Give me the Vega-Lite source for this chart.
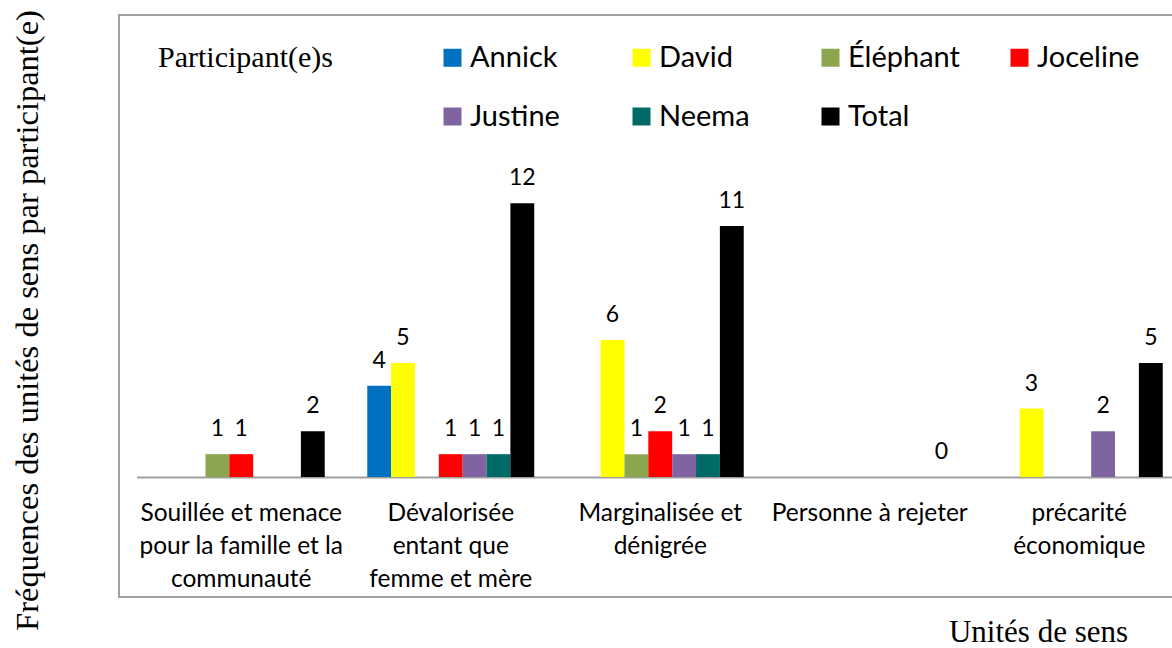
{
  "$schema": "https://vega.github.io/schema/vega-lite/v6.json",
  "autosize": "none",
  "width": 1061,
  "height": 582,
  "padding": {"left": 119, "top": 15, "right": -8, "bottom": 51},
  "background": "white",
  "config": {
    "view": {"stroke": "#A0A0A0", "strokeWidth": 2},
    "font": "Lato"
  },
  "data": {
    "values": [
      {"unite": "Souillée et menace\npour la famille et la\ncommunauté", "participant": "Éléphant", "frequence": 1},
      {"unite": "Souillée et menace\npour la famille et la\ncommunauté", "participant": "Joceline", "frequence": 1},
      {"unite": "Souillée et menace\npour la famille et la\ncommunauté", "participant": "Total", "frequence": 2},
      {"unite": "Dévalorisée\nentant que\nfemme et mère", "participant": "Annick", "frequence": 4},
      {"unite": "Dévalorisée\nentant que\nfemme et mère", "participant": "David", "frequence": 5},
      {"unite": "Dévalorisée\nentant que\nfemme et mère", "participant": "Joceline", "frequence": 1},
      {"unite": "Dévalorisée\nentant que\nfemme et mère", "participant": "Justine", "frequence": 1},
      {"unite": "Dévalorisée\nentant que\nfemme et mère", "participant": "Neema", "frequence": 1},
      {"unite": "Dévalorisée\nentant que\nfemme et mère", "participant": "Total", "frequence": 12},
      {"unite": "Marginalisée et\ndénigrée", "participant": "David", "frequence": 6},
      {"unite": "Marginalisée et\ndénigrée", "participant": "Éléphant", "frequence": 1},
      {"unite": "Marginalisée et\ndénigrée", "participant": "Joceline", "frequence": 2},
      {"unite": "Marginalisée et\ndénigrée", "participant": "Justine", "frequence": 1},
      {"unite": "Marginalisée et\ndénigrée", "participant": "Neema", "frequence": 1},
      {"unite": "Marginalisée et\ndénigrée", "participant": "Total", "frequence": 11},
      {"unite": "Personne à rejeter", "participant": "Total", "frequence": 0},
      {"unite": "précarité\néconomique", "participant": "David", "frequence": 3},
      {"unite": "précarité\néconomique", "participant": "Justine", "frequence": 2},
      {"unite": "précarité\néconomique", "participant": "Total", "frequence": 5}
    ]
  },
  "encoding": {
    "x": {
      "field": "unite",
      "type": "nominal",
      "sort": null,
      "scale": {
        "domain": [
          "Souillée et menace\npour la famille et la\ncommunauté",
          "Dévalorisée\nentant que\nfemme et mère",
          "Marginalisée et\ndénigrée",
          "Personne à rejeter",
          "précarité\néconomique"
        ],
        "range": [17.5, 1065],
        "paddingInner": 0.203,
        "paddingOuter": 0.1015
      },
      "axis": {
        "orient": "bottom",
        "offset": -120,
        "labelAngle": 0,
        "labelExpr": "split(datum.label, '\\n')",
        "labelFont": "Lato",
        "labelFontSize": 24.5,
        "labelColor": "black",
        "labelBaseline": "alphabetic",
        "labelLineHeight": 33,
        "labelPadding": 43,
        "labelLimit": 0,
        "ticks": false,
        "tickSize": 0,
        "domainColor": "#A0A0A0",
        "domainWidth": 2,
        "grid": false,
        "title": "Unités de sens",
        "titleFont": "Liberation Serif",
        "titleFontSize": 31,
        "titleFontWeight": "normal",
        "titleColor": "black",
        "titleBaseline": "alphabetic",
        "titleAlign": "center",
        "titleAnchor": null,
        "titleX": 919,
        "titleY": 164
      }
    },
    "xOffset": {
      "field": "participant",
      "type": "nominal",
      "scale": {
        "domain": ["Annick", "David", "Éléphant", "Joceline", "Justine", "Neema", "Total"],
        "paddingInner": 0,
        "paddingOuter": 0
      }
    },
    "y": {
      "field": "frequence",
      "type": "quantitative",
      "scale": {"domain": [-5.26, 20.25], "nice": false, "zero": false},
      "axis": {
        "labels": false,
        "ticks": false,
        "domain": false,
        "grid": false,
        "title": "Fréquences des unités de sens par participant(e)",
        "titleFont": "Liberation Serif",
        "titleFontSize": 32.5,
        "titleFontWeight": "normal",
        "titleColor": "black",
        "titleAngle": -90,
        "titleBaseline": "alphabetic",
        "titleAlign": "center",
        "titleAnchor": null,
        "titleX": -82,
        "titleY": 305
      }
    }
  },
  "layer": [
    {
      "mark": {"type": "bar"},
      "encoding": {
        "color": {
          "field": "participant",
          "type": "nominal",
          "scale": {
            "domain": ["Annick", "David", "Éléphant", "Joceline", "Justine", "Neema", "Total"],
            "range": ["#0070C0", "#FFFF00", "#8BA64F", "#FF0000", "#8064A2", "#006B66", "#000000"]
          },
          "legend": {
            "title": "Participant(e)s",
            "orient": "none",
            "legendX": 39,
            "legendY": 28,
            "direction": "horizontal",
            "columns": 4,
            "gridAlign": "all",
            "columnPadding": 45,
            "rowPadding": 29,
            "padding": 0,
            "titleOrient": "left",
            "titleAnchor": "start",
            "titleBaseline": "top",
            "titleFont": "Liberation Serif",
            "titleFontSize": 30,
            "titleFontWeight": "normal",
            "titleColor": "black",
            "titlePadding": 105,
            "symbolType": "square",
            "symbolSize": 324,
            "symbolStrokeWidth": 0,
            "labelFont": "Lato",
            "labelFontSize": 29,
            "labelColor": "black",
            "labelOffset": 3,
            "labelLimit": 0
          }
        }
      }
    },
    {
      "mark": {"type": "text", "font": "Lato", "fontSize": 23, "color": "black", "baseline": "alphabetic", "dy": -18},
      "encoding": {
        "text": {"field": "frequence", "type": "quantitative"}
      }
    }
  ]
}
